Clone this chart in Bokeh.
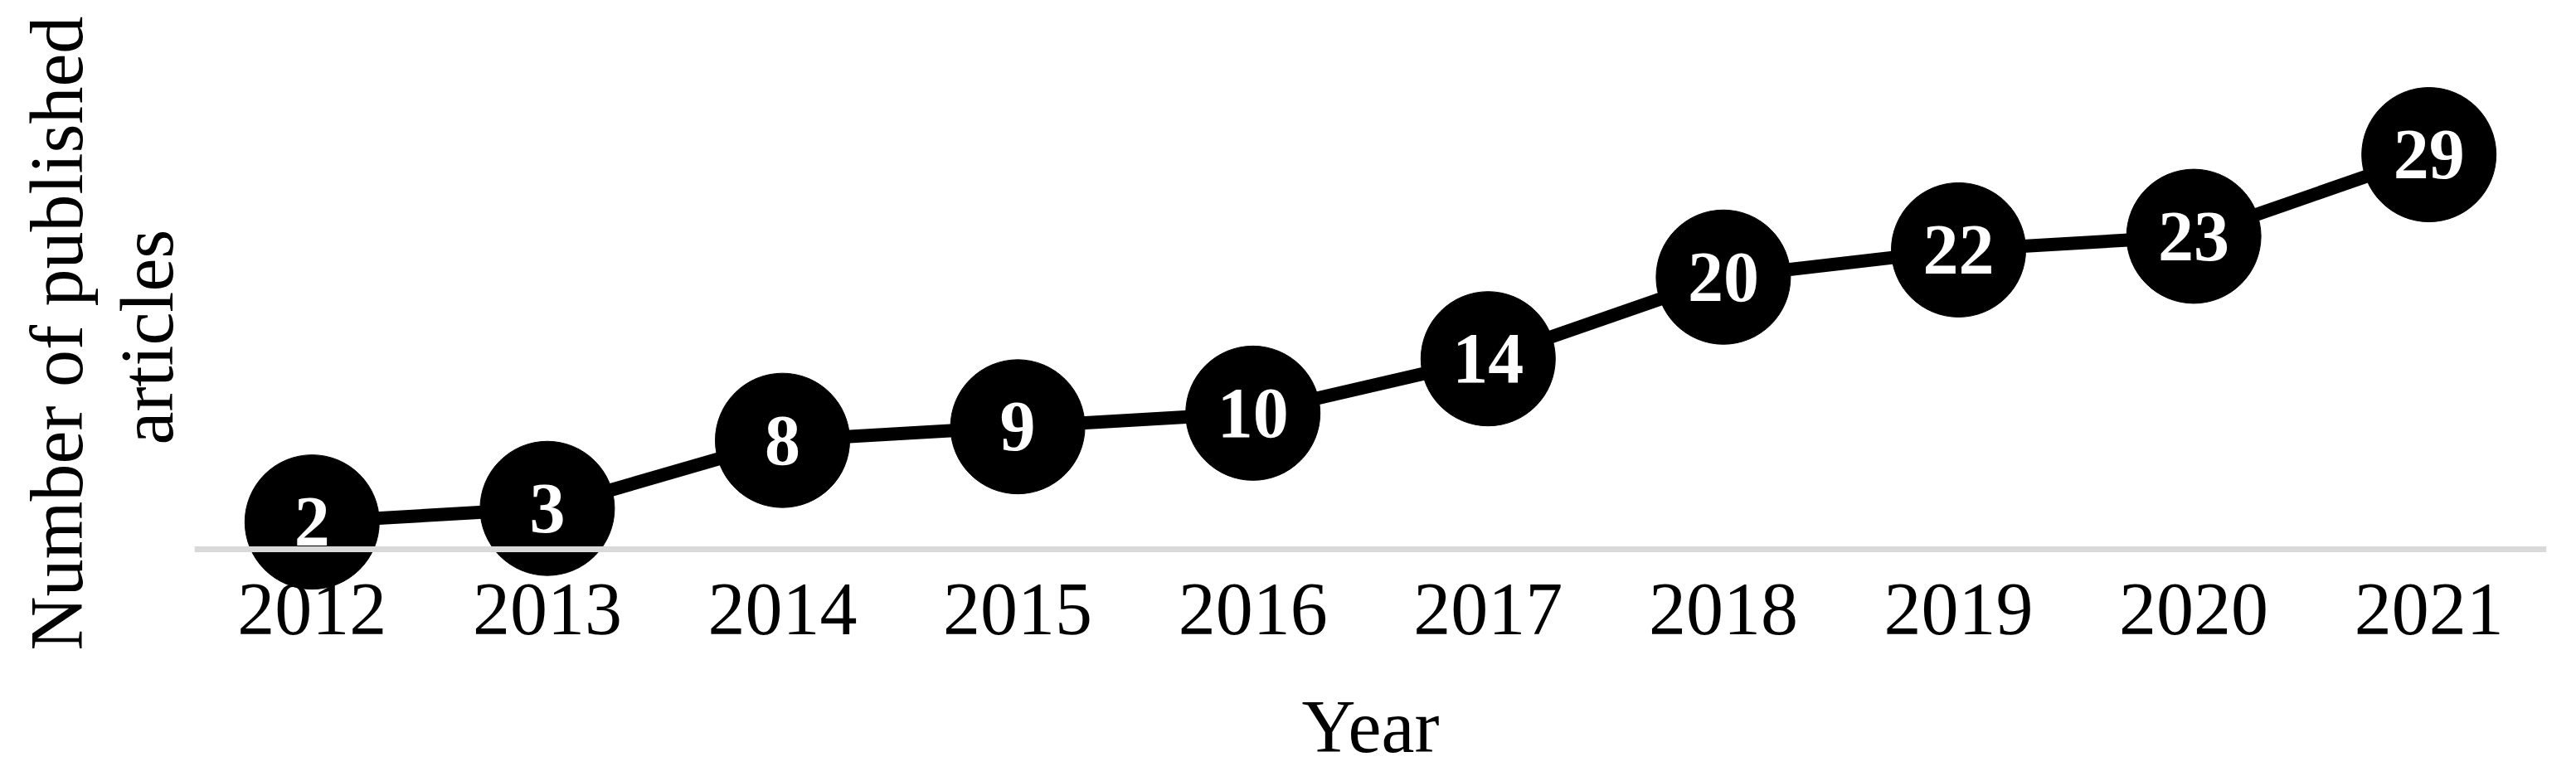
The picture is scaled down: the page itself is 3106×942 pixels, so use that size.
from bokeh.plotting import figure
from bokeh.models import ColumnDataSource, FactorRange, Range1d, Span, Title
from bokeh.core.properties import value
from bokeh.embed import file_html
from bokeh.resources import INLINE

years = ["2012", "2013", "2014", "2015", "2016", "2017", "2018", "2019", "2020", "2021"]
articles = [2, 3, 8, 9, 10, 14, 20, 22, 23, 29]
x_title = "Year"
y_title_lines = ["Number of published", "articles"]

src = ColumnDataSource(dict(x=years, y=articles, lab=[str(v) for v in articles]))

FONT = "Liberation Serif"

p = figure(frame_width=2836, frame_height=704, output_backend="svg", toolbar_location=None,
           x_range=FactorRange(*years, range_padding=0),
           y_range=Range1d(-3.05, 39.85),
           min_border_left=234, min_border_right=28, min_border_top=8,
           min_border_bottom=0)
p.outline_line_color = None
p.xgrid.visible = False
p.ygrid.visible = False
p.yaxis.visible = False
p.background_fill_color = "white"
p.border_fill_color = "white"

ax = p.xaxis[0]
ax.axis_line_color = None
ax.major_tick_line_color = None
ax.minor_tick_line_color = None
ax.major_tick_out = 0
ax.major_tick_in = 0
ax.major_label_standoff = -8
ax.major_label_text_font = FONT
ax.major_label_text_font_size = "90px"
ax.major_label_text_color = "black"
ax.axis_label = x_title
ax.axis_label_text_font = FONT
ax.axis_label_text_font_size = "90px"
ax.axis_label_text_font_style = "normal"
ax.axis_label_text_color = "black"
ax.axis_label_standoff = 59

p.add_layout(Span(location=0, dimension="width", line_color="#d9d9d9", line_width=7))

p.line("x", "y", source=src, line_color="black", line_width=16)
p.scatter("x", "y", source=src, size=162, fill_color="black", line_color="black")
p.text("x", "y", text="lab", source=src, text_font=value(FONT), text_font_style="bold",
       text_color="white", text_align="center", text_baseline="middle",
       text_font_size="86px")

# y title: two lines, nearest to the frame first
for line_text, off, so in [(y_title_lines[1], 176, 16), (y_title_lines[0], -72, 0)]:
    p.add_layout(Title(text=line_text, align="left", offset=off, standoff=so,
                       text_font=FONT, text_font_size="90px", text_font_style="normal",
                       text_color="black"), "left")

open("out.html", "w").write(file_html(p, INLINE))
